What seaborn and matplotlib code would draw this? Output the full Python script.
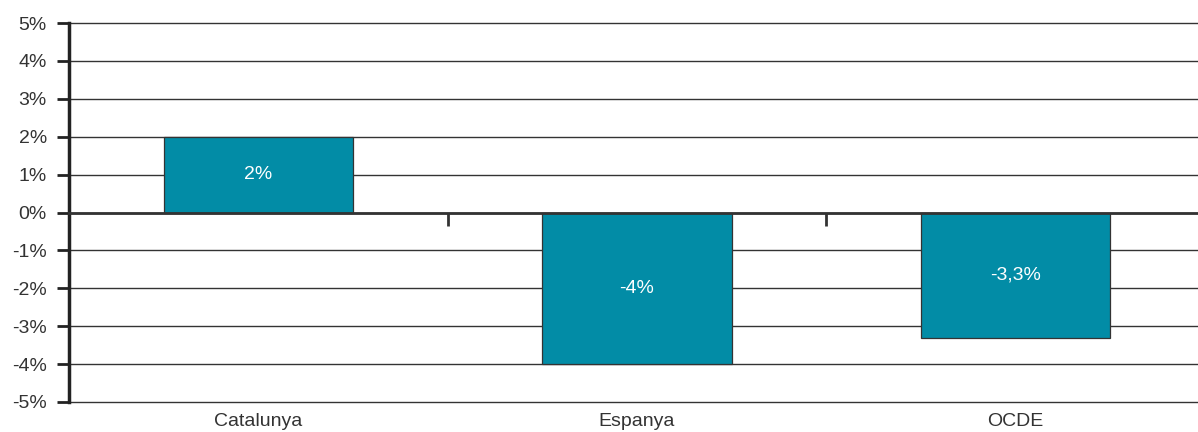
import numpy as np
import pandas as pd
import matplotlib
matplotlib.use("Agg")
import matplotlib.pyplot as plt
import matplotlib.transforms as mtransforms
import seaborn as sns

# data
categories = ["Catalunya", "Espanya", "OCDE"]
values = [2.0, -4.0, -3.3]
labels = ["2%", "-4%", "-3,3%"]
yticks = [5, 4, 3, 2, 1, 0, -1, -2, -3, -4, -5]

sns.set_theme(style="white")
plt.rcParams['font.family'] = ['Liberation Sans', 'DejaVu Sans']

df = pd.DataFrame({"cat": categories, "val": values})

fig = plt.figure(figsize=(11.98, 4.32), dpi=100)
ax = fig.add_axes([69 / 1198, 1 - 402 / 432, 1136 / 1198, 379 / 432])

sns.barplot(data=df, x="cat", y="val", ax=ax, color="#028ca6", width=0.5,
            saturation=1, edgecolor="#333333", linewidth=0.9, zorder=3)

ax.set_xlim(-0.5, 2.5)
ax.set_ylim(-5, 5)
ax.set_yticks(yticks)
ax.set_yticklabels([f"{t}%" for t in yticks], fontsize=14, color="#333333")
for t in yticks:
    ax.axhline(t, color="#333333", linewidth=1, zorder=1, clip_on=False)

# x axis at zero with boundary ticks
ax.spines['bottom'].set_position(('data', 0))
ax.spines['bottom'].set_linewidth(2)
ax.spines['bottom'].set_color("#333333")
ax.spines['bottom'].set_zorder(4)
ax.set_xticks([0.5, 1.5])
ax.set_xticklabels([])
ax.tick_params(axis='x', direction='out', length=9, width=2, color="#333333", bottom=True)

ax.spines['left'].set_linewidth(2.5)
ax.spines['left'].set_color("#222222")
ax.tick_params(axis='y', direction='out', length=9, width=2, color="#222222", left=True, pad=7)
for s in ['top', 'right']:
    ax.spines[s].set_visible(False)
ax.set_xlabel("")
ax.set_ylabel("")

# category labels below the plot
trans = mtransforms.blended_transform_factory(ax.transData, ax.transAxes)
for i, c in enumerate(categories):
    ax.text(i, -0.03, c, transform=trans, ha="center", va="top",
            fontsize=14, color="#333333")

# value labels inside bars
for i, (v, lab) in enumerate(zip(values, labels)):
    ax.text(i, v / 2, lab, ha="center", va="center", color="white",
            fontsize=14, zorder=5)

fig.savefig("out.png", dpi=100)
